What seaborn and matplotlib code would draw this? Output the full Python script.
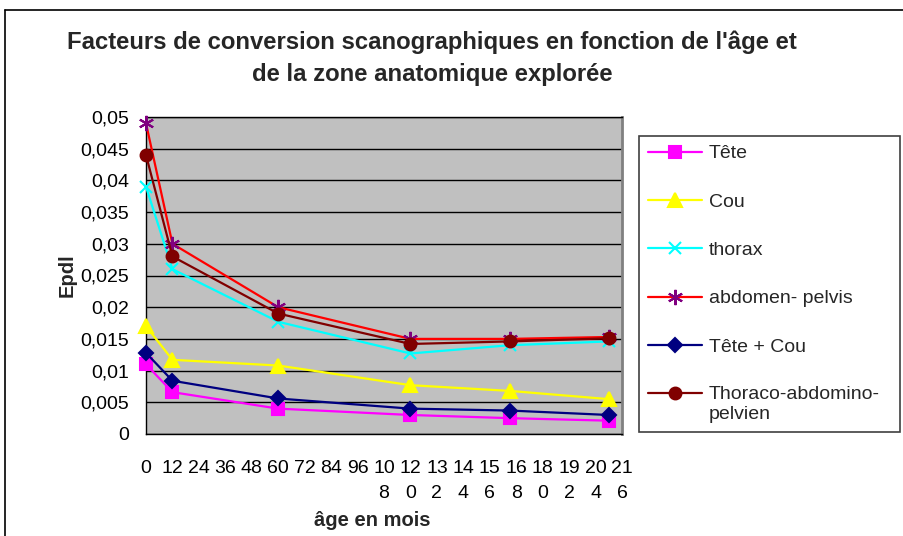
import matplotlib
matplotlib.use("Agg")
import matplotlib.pyplot as plt
from matplotlib.lines import Line2D
from matplotlib.ticker import FuncFormatter
import seaborn as sns

# ages (mois) and conversion factors
ages = [0, 12, 60, 120, 165, 210]
tete = [0.011, 0.0066, 0.0040, 0.0030, 0.0025, 0.0021]
cou = [0.017, 0.0117, 0.0108, 0.0077, 0.0068, 0.0055]
thorax = [0.039, 0.026, 0.0177, 0.0127, 0.0140, 0.0146]
abdomen_pelvis = [0.049, 0.030, 0.020, 0.015, 0.015, 0.0153]
tete_cou = [0.0128, 0.0084, 0.0056, 0.0040, 0.0037, 0.0030]
thoraco_abdo = [0.044, 0.028, 0.019, 0.0142, 0.0146, 0.0151]

labels = ["Tête", "Cou", "thorax", "abdomen- pelvis", "Tête + Cou",
          "Thoraco-abdomino-\npelvien"]

x_ticks = list(range(0, 217, 12))
x_ticklabels = ["0", "12", "24", "36", "48", "60", "72", "84", "96",
                "10\n8", "12\n0", "13\n2", "14\n4", "15\n6", "16\n8",
                "18\n0", "19\n2", "20\n4", "21\n6"]

sns.set_style("white")
plt.rcParams['font.family'] = ['Liberation Sans', 'DejaVu Sans']

W, H = 904, 536
fig = plt.figure(figsize=(W / 100, H / 100), dpi=100)
ax = fig.add_axes([146 / W, 1 - 434 / H, 476 / W, 317 / H])
ax.set_facecolor("#C0C0C0")

# series style: (values, line color, marker, marker size, marker color)
series = [
    (tete, "#FF00FF", "s", 8.5, "#FF00FF"),
    (cou, "#FFFF00", "^", 10, "#FFFF00"),
    (thorax, "#00FFFF", "x", 9, "#00FFFF"),
    (abdomen_pelvis, "#FF0000", (6, 2, 0), 11, "#800080"),
    (tete_cou, "#000080", "D", 7.5, "#000080"),
    (thoraco_abdo, "#800000", "o", 8.5, "#800000"),
]

for (vals, col, mk, ms, mc), lab in zip(series, labels):
    sns.lineplot(x=ages, y=vals, ax=ax, color=col, linewidth=1.6,
                 marker=mk, markersize=ms, markerfacecolor=mc,
                 markeredgecolor=mc, markeredgewidth=1.5, label=lab,
                 legend=False, zorder=3, clip_on=False)

ax.set_xlim(0, 216)
ax.set_ylim(0, 0.05)
ax.set_yticks([i * 0.005 for i in range(11)])
ax.yaxis.set_major_formatter(FuncFormatter(lambda v, p: f"{v:g}".replace(".", ",")))
ax.set_xticks(x_ticks)
ax.set_xticklabels(x_ticklabels, linespacing=1.6, va="top")
ax.tick_params(axis="both", labelsize=14, colors="black", direction="out",
               length=6, width=1)
ax.tick_params(axis="x", pad=13)
ax.tick_params(axis="y", pad=6)
ax.grid(axis="y", color="black", linewidth=1)
ax.set_axisbelow(True)
for s in ["left", "bottom", "top"]:
    ax.spines[s].set_color("black")
    ax.spines[s].set_linewidth(1)
ax.spines["right"].set_color("#808080")
ax.spines["right"].set_linewidth(2)
ax.set_xlabel("")
ax.set_ylabel("")

fig.text(432 / W, 1 - 42 / H,
         "Facteurs de conversion scanographiques en fonction de l'âge et",
         ha="center", va="center", fontsize=17.2, fontweight="bold")
fig.text(432 / W, 1 - 75 / H, "de la zone anatomique explorée",
         ha="center", va="center", fontsize=17.2, fontweight="bold")
fig.text(67 / W, 1 - 275 / H, "Epdl", rotation=90, ha="center", va="center",
         fontsize=14.5, fontweight="bold")
fig.text(372 / W, 1 - 521 / H, "âge en mois", ha="center", va="center",
         fontsize=14.5, fontweight="bold")

# outer chart frame (right and bottom edges fall outside the picture)
fig.add_artist(Line2D([5 / W, 5 / W], [0, 1 - 10 / H], color="black", lw=1.2))
fig.add_artist(Line2D([5 / W, 1], [1 - 10 / H, 1 - 10 / H], color="black", lw=1.2))

handles, labs = ax.get_legend_handles_labels()
leg = fig.legend(handles, labs, loc="upper left",
                 bbox_to_anchor=(639 / W, 1 - 136 / H, 261 / W, 0),
                 mode="expand", fontsize=14, frameon=True, fancybox=False,
                 edgecolor="#404040", framealpha=1, labelspacing=1.58,
                 handlelength=2.8, handletextpad=0.35, borderpad=0.45,
                 borderaxespad=0)
leg.get_frame().set_linewidth(1.2)
items = leg._legend_handle_box.get_children()[0].get_children()
items[-1].align = "top"

fig.savefig("out.png", dpi=100)
